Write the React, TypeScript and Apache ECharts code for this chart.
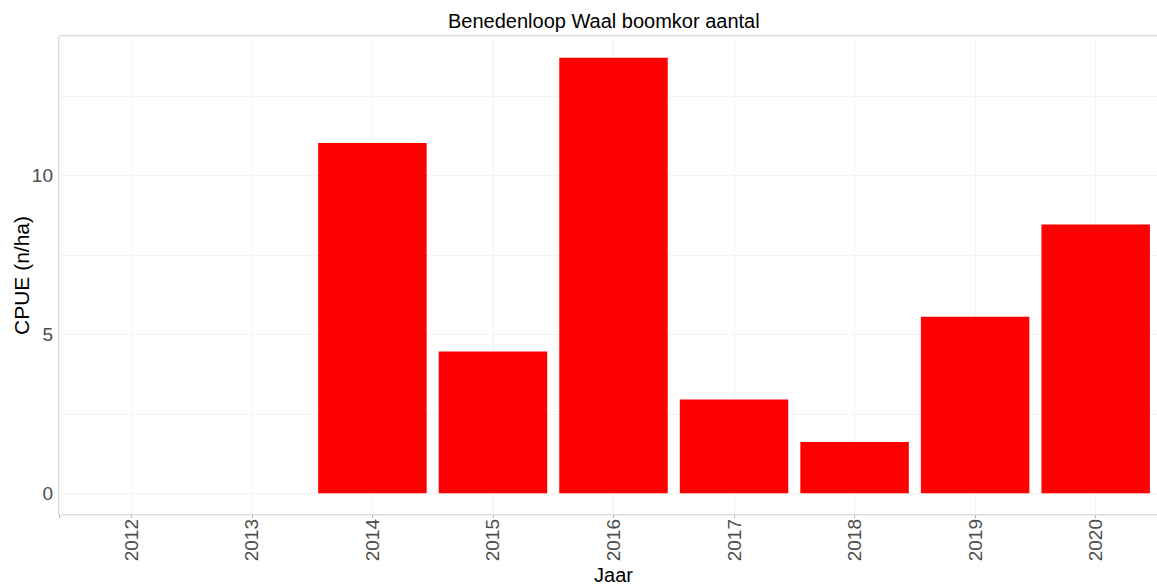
import React, { useEffect, useRef } from "react";
import * as echarts from "echarts";

const years = [2012, 2013, 2014, 2015, 2016, 2017, 2018, 2019, 2020];
const cpue: (number | null)[] = [null, null, 11.03, 4.46, 13.71, 2.95, 1.61, 5.56, 8.46];
const yTickLabels = [0, 5, 10];

const FONT = "'Liberation Sans', Arial, sans-serif";

export default function App() {
  const ref = useRef<HTMLDivElement>(null);
  useEffect(() => {
    if (!ref.current) return;
    const chart = echarts.init(ref.current, null, { renderer: "svg" });
    const maxVal = Math.max(...(cpue.filter((v) => v != null) as number[]));
    const pad = maxVal * 0.05;
    const data = years
      .map((y, i) => [y, cpue[i]])
      .filter((d) => d[1] != null);
    chart.setOption({
      animation: false,
      backgroundColor: "#ffffff",
      textStyle: { fontFamily: FONT },
      title: {
        text: "Benedenloop Waal boomkor aantal",
        left: 448,
        top: 11,
        padding: 0,
        textStyle: { fontFamily: FONT, fontSize: 20, fontWeight: "normal", color: "#000000" },
      },
      grid: {
        left: 59,
        top: 36,
        width: 1109,
        height: 479,
        containLabel: false,
        outerBoundsMode: "none",
        show: true,
        borderColor: "#b3b3b3",
        borderWidth: 1,
        backgroundColor: "transparent",
      },
      xAxis: {
        type: "value",
        min: years[0] - 0.6,
        max: years[years.length - 1] + 0.6,
        minInterval: 1,
        maxInterval: 1,
        name: "Jaar",
        nameLocation: "middle",
        nameGap: 50,
        nameMoveOverlap: false,
        nameTextStyle: { fontFamily: FONT, fontSize: 20, color: "#000000" },
        axisLine: { show: false, onZero: false },
        axisTick: { show: true, length: 3, lineStyle: { color: "#b3b3b3" } },
        axisLabel: {
          rotate: 90,
          margin: 4,
          fontSize: 19,
          color: "#4d4d4d",
          fontFamily: FONT,
          formatter: (v: number) => (Math.abs(v - Math.round(v)) < 1e-6 ? String(Math.round(v)) : ""),
        },
        splitLine: { show: true, lineStyle: { color: "#f3f3f3", width: 1 } },
      },
      yAxis: {
        type: "value",
        min: -pad,
        max: maxVal + pad,
        minInterval: 2.5,
        maxInterval: 2.5,
        name: "CPUE (n/ha)",
        nameLocation: "middle",
        nameGap: 27,
        nameMoveOverlap: false,
        nameTextStyle: { fontFamily: FONT, fontSize: 21, color: "#000000" },
        axisLine: { show: false, onZero: false },
        axisTick: { show: false },
        axisLabel: {
          margin: 6,
          fontSize: 19,
          color: "#4d4d4d",
          fontFamily: FONT,
          formatter: (v: number) => {
            const hit = yTickLabels.find((t) => Math.abs(t - v) < 1e-6);
            return hit !== undefined ? String(hit) : "";
          },
        },
        splitLine: { show: true, lineStyle: { color: "#f3f3f3", width: 1 } },
      },
      series: [
        {
          type: "bar",
          data,
          barWidth: "90%",
          itemStyle: { color: "#ff0000" },
        },
      ],
    });
    return () => chart.dispose();
  }, []);
  return (
    <div
      ref={ref}
      style={{ position: "fixed", left: 0, top: 0, width: 1157, height: 585, background: "#fff" }}
    />
  );
}
